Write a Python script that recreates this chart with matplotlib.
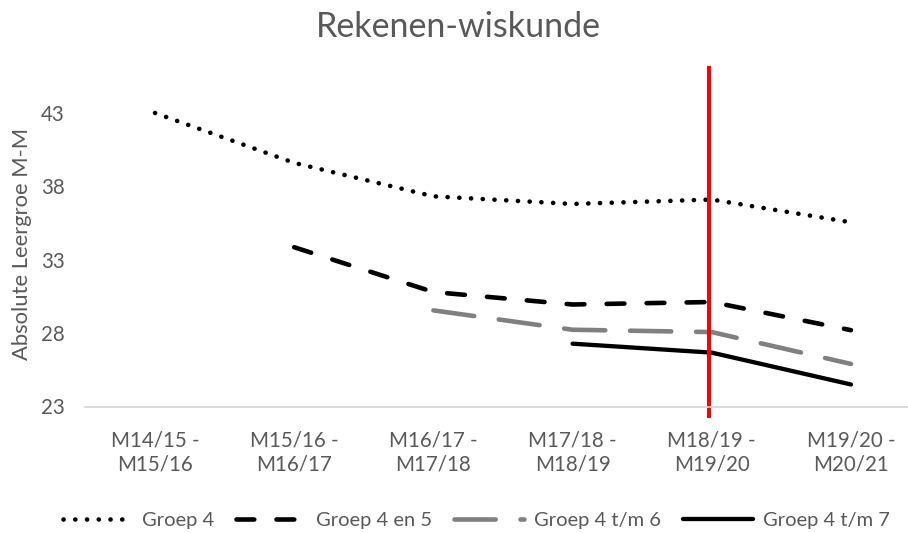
import numpy as np
import matplotlib
matplotlib.use("Agg")
import matplotlib.pyplot as plt

plt.rcParams['font.family'] = ['Lato', 'DejaVu Sans']
plt.rcParams['lines.scale_dashes'] = False

categories = ["M14/15 -\nM15/16", "M15/16 -\nM16/17", "M16/17 -\nM17/18",
              "M17/18 -\nM18/19", "M18/19 -\nM19/20", "M19/20 -\nM20/21"]
groep4 = [43.0, 39.6, 37.32, 36.8, 37.1, 35.55]
groep4en5 = [None, 33.85, 30.8, 29.95, 30.12, 28.2]
groep4tm6 = [None, None, 29.55, 28.23, 28.07, 25.9]
groep4tm7 = [None, None, None, 27.28, 26.67, 24.5]
yticks = [23, 28, 33, 38, 43]
marker_category = 4  # vertical red line at M18/19 - M19/20

TEXT = '#595959'
W, H, DPI = 908, 533, 100

fig = plt.figure(figsize=(W / DPI, H / DPI), dpi=DPI)
left, right, bottom, top = 85.4, 920.6, 406.5, 66
ax = fig.add_axes([left / W, 1 - bottom / H, (right - left) / W, (bottom - top) / H])

px = 72.0 / DPI  # points per pixel
series = [
    ("Groep 4", groep4, dict(color='black', lw=4.6 * px, dashes=(0.1, 11.6 * px), dash_capstyle='round')),
    ("Groep 4 en 5", groep4en5, dict(color='black', lw=4.6 * px, dashes=(17.8 * px, 22.2 * px), dash_capstyle='round')),
    ("Groep 4 t/m 6", groep4tm6, dict(color='#808080', lw=4.6 * px, dashes=(41.2 * px, 24.8 * px), dash_capstyle='round')),
    ("Groep 4 t/m 7", groep4tm7, dict(color='black', lw=4.3 * px, solid_capstyle='round', solid_joinstyle='round')),
]
for name, vals, style in series:
    xs = [i for i, v in enumerate(vals) if v is not None]
    ys = [v for v in vals if v is not None]
    ax.plot(xs, ys, label=name, dash_joinstyle='round', **style)

ax.set_xlim(-0.5, len(categories) - 0.5)
ax.set_ylim(23, 46.2)
ax.set_yticks(yticks)
ax.set_yticklabels([str(v) for v in yticks])
ax.set_xticks(range(len(categories)))
ax.set_xticklabels(categories, linespacing=1.3)
ax.tick_params(axis='both', length=0, labelsize=14.8, labelcolor=TEXT)
ax.tick_params(axis='y', pad=15)
ax.tick_params(axis='x', pad=17)
for s in ['top', 'right', 'left']:
    ax.spines[s].set_visible(False)
ax.spines['bottom'].set_color('#d9d9d9')
ax.spines['bottom'].set_linewidth(1.3)

# red vertical marker
xm = marker_category - 0.02
ax.plot([xm, xm], [46.2, 22.2], color='#ff0000', lw=4 * px, clip_on=False, solid_capstyle='butt')

fig.text(22 / W, 1 - 244 / H, "Absolute Leergroe M-M", rotation=90, ha='center', va='center',
         fontsize=15.8, color=TEXT)
fig.text(458 / W, 1 - 27 / H, "Rekenen-wiskunde", ha='center', va='center', fontsize=24.5,
         color=TEXT)

leg = fig.legend(loc='center', bbox_to_anchor=(476 / W, 1 - 520 / H), ncol=4, frameon=False,
                 fontsize=14.5, handlelength=3.45, handletextpad=0.5, columnspacing=1.1,
                 borderpad=0, borderaxespad=0)
for t in leg.get_texts():
    t.set_color(TEXT)

fig.savefig("out.png", dpi=DPI)
